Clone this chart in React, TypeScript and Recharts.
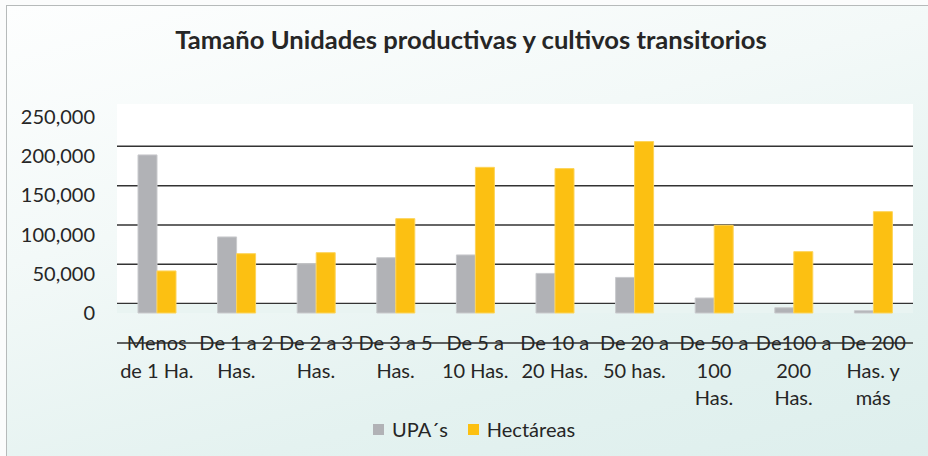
import React from "react";
import {
  BarChart,
  Bar,
  XAxis,
  YAxis,
  CartesianGrid,
  ReferenceArea,
  ReferenceLine,
  Legend,
} from "recharts";

// category labels, "\n" marks the line breaks under each group
const categories = [
  "Menos\nde 1 Ha.",
  "De 1 a 2\nHas.",
  "De 2 a 3\nHas.",
  "De 3 a 5\nHas.",
  "De 5 a\n10 Has.",
  "De 10 a\n20 Has.",
  "De 20 a\n50 has.",
  "De 50 a\n100\nHas.",
  "De100 a\n200\nHas.",
  "De 200\nHas. y\nmás",
];
const upas = [201200, 96800, 62800, 70400, 73900, 50400, 45300, 19100, 6700, 2900];
const hectareas = [53500, 75500, 76800, 120100, 185400, 183800, 218200, 111600, 78100, 129000];
const valueTicks = [0, 50000, 100000, 150000, 200000, 250000];
const gridTicks = [0, 50000, 100000, 150000, 200000];
// the back wall of the 3D chart sits a little above the bars' front baseline
const wallDepth = 12100;

const data = categories.map((name, i) => ({ name, upas: upas[i], hectareas: hectareas[i] }));

const FONT = "Lato, 'Open Sans', sans-serif";
const TEXT = "#262626";
const GRAY = "#b1b2b6";
const YELLOW = "#fcc012";

function CategoryTick({ x, y, payload }: any) {
  const lines = String(payload.value).split("\n");
  return (
    <text x={x} y={y} textAnchor="middle" fill={TEXT} fontSize={20} fontFamily={FONT}>
      {lines.map((line, i) => (
        <tspan key={i} x={x} y={y + 37 + i * 27.7}>
          {line}
        </tspan>
      ))}
    </text>
  );
}

function LegendContent() {
  const items = [
    { label: "UPA´s", color: GRAY },
    { label: "Hectáreas", color: YELLOW },
  ];
  return (
    <div
      style={{
        height: 24,
        display: "flex",
        justifyContent: "center",
        alignItems: "center",
        gap: 20,
        paddingLeft: 20,
        fontFamily: FONT,
        fontSize: 20,
        color: TEXT,
      }}
    >
      {items.map((it) => (
        <div key={it.label} style={{ display: "flex", alignItems: "center", gap: 8 }}>
          <span style={{ width: 11, height: 11, background: it.color, display: "inline-block" }} />
          <span>{it.label}</span>
        </div>
      ))}
    </div>
  );
}

const categoryTick = <CategoryTick />;
const formatValue = (v: number) => v.toLocaleString("en-US");

export default function App() {
  return (
    <div
      style={{
        position: "absolute",
        top: 0,
        left: 0,
        width: 928,
        height: 456,
        overflow: "hidden",
        background: "#fbfcfc",
      }}
    >
      <div
        style={{
          position: "absolute",
          left: 6,
          top: 5,
          width: 960,
          height: 480,
          borderTop: "1.5px solid #b6baba",
          borderLeft: "1.5px solid #b6baba",
          background: "linear-gradient(165deg, #fdfefe 0%, #f3f9f8 35%, #e4f2f0 70%, #dceeec 100%)",
        }}
      />
      <div
        style={{
          position: "absolute",
          top: 24,
          left: 0,
          width: 942,
          textAlign: "center",
          fontFamily: FONT,
          fontWeight: 700,
          fontSize: 25.6,
          color: TEXT,
        }}
      >
        Tamaño Unidades productivas y cultivos transitorios
      </div>
      <div style={{ position: "absolute", top: 0, left: 0 }}>
        <BarChart
          width={928}
          height={456}
          data={data}
          margin={{ top: 104, right: 15, left: 0, bottom: 15 }}
          barSize={19}
          barGap={0}
        >
          <CartesianGrid horizontal={false} vertical={false} fill="#ffffff" fillOpacity={1} />
          <YAxis
            domain={[0, 266000]}
            ticks={valueTicks}
            interval={0}
            axisLine={false}
            tickLine={false}
            tickSize={0}
            tickMargin={22}
            width={117}
            tickFormatter={formatValue}
            tick={{ fill: TEXT, fontSize: 20, fontFamily: FONT }}
          />
          <XAxis
            dataKey="name"
            interval={0}
            height={104}
            axisLine={false}
            tickLine={false}
            tickSize={0}
            tickMargin={0}
            tick={categoryTick}
          />
          <ReferenceArea y1={0} y2={wallDepth - 600} fill="#e9f4f2" fillOpacity={1} stroke="none" />
          {gridTicks.map((v) => (
            <ReferenceLine key={v} y={v + wallDepth} stroke="#333333" strokeWidth={1.5} zIndex={-10} />
          ))}
          <ReferenceLine y={-38200} ifOverflow="visible" stroke="#2e2e2e" strokeWidth={1.5} />
          <Legend verticalAlign="bottom" height={24} wrapperStyle={{ left: 0, width: 928 }} content={<LegendContent />} />
          <Bar
            dataKey="upas"
            name="UPA´s"
            fill={GRAY}
            stroke="#c9cacd"
            strokeWidth={1}
            isAnimationActive={false}
          />
          <Bar
            dataKey="hectareas"
            name="Hectáreas"
            fill={YELLOW}
            stroke="#fdd45a"
            strokeWidth={1}
            isAnimationActive={false}
          />
        </BarChart>
      </div>
    </div>
  );
}
